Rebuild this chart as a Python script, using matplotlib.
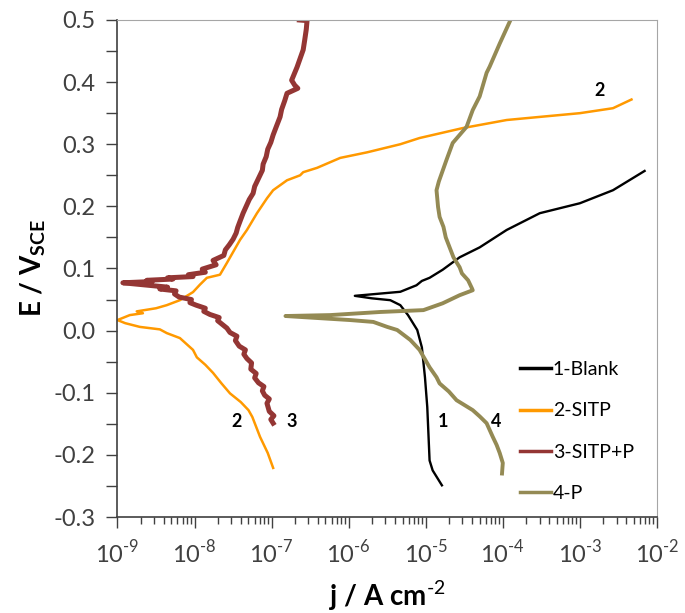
import matplotlib
matplotlib.use("Agg")
import matplotlib.pyplot as plt
import numpy as np
from matplotlib.ticker import LogLocator, MultipleLocator, NullFormatter, FuncFormatter

plt.rcParams["font.family"] = ["Lato", "DejaVu Sans"]
plt.rcParams["mathtext.fontset"] = "custom"
plt.rcParams["mathtext.rm"] = "Lato"
plt.rcParams["mathtext.bf"] = "Lato:bold"

# log10(j / A cm-2) and E / V_SCE
blank_logj = [-4.79, -4.91, -4.95, -4.98, -5.01, -5.05, -5.11, -5.23, -5.33, -5.46, -5.70,
              -5.92, -5.33, -5.12, -5.05, -4.95, -4.78, -4.56, -4.30, -3.95, -3.52, -3.00, -2.57, -2.16]
blank_E = [-0.249, -0.225, -0.209, -0.123, -0.075, -0.027, 0.001, 0.025, 0.041, 0.049, 0.052,
           0.056, 0.0625, 0.073, 0.080, 0.085, 0.098, 0.118, 0.134, 0.162, 0.189, 0.205, 0.226, 0.257]

sitp_logj = [-6.98, -7.05, -7.15, -7.25, -7.30, -7.40, -7.54, -7.65, -7.76, -7.86, -7.97, -8.02,
             -8.19, -8.36, -8.45, -8.71, -8.90, -9.00, -8.84, -8.67, -8.75, -8.50, -8.36, -8.19,
             -8.02, -7.93, -7.84, -7.67, -7.58, -7.41, -7.32, -7.19, -7.06, -6.98, -6.80, -6.63,
             -6.59, -6.41, -6.11, -5.76, -5.33, -5.08, -4.52, -4.30, -3.95, -3.52, -3.00, -2.57, -2.33]
sitp_E = [-0.221, -0.197, -0.171, -0.139, -0.128, -0.115, -0.101, -0.085, -0.068, -0.055, -0.043,
          -0.031, -0.012, -0.004, 0.002, 0.006, 0.012, 0.017, 0.025, 0.028, 0.031, 0.036, 0.041,
          0.049, 0.062, 0.074, 0.085, 0.090, 0.109, 0.146, 0.162, 0.189, 0.213, 0.226, 0.242,
          0.250, 0.255, 0.262, 0.278, 0.287, 0.300, 0.310, 0.326, 0.331, 0.339, 0.344, 0.350,
          0.358, 0.372]

sitpp_logj = [-6.98, -7.01, -6.97, -7.03, -7.06, -7.03, -7.09, -7.12, -7.10, -7.17, -7.22, -7.20,
              -7.27, -7.26, -7.32, -7.36, -7.34, -7.42, -7.47, -7.45, -7.54, -7.58, -7.64, -7.70,
              -7.68, -7.80, -7.88, -7.86, -7.98, -8.06, -8.04, -8.20, -8.26, -8.24, -8.45, -8.35,
              -8.93, -8.55, -8.62, -8.28, -8.35, -8.02, -8.08, -7.86, -7.90, -7.72, -7.76, -7.62,
              -7.60, -7.55, -7.50, -7.46, -7.44, -7.41, -7.37, -7.33, -7.29, -7.24, -7.22, -7.17,
              -7.12, -7.11, -7.07, -7.05, -7.01, -6.98, -6.94, -6.89, -6.87, -6.83, -6.80, -6.66,
              -6.70, -6.74, -6.70, -6.67, -6.63, -6.59, -6.57, -6.55, -6.54, -6.64]
sitpp_E = [-0.149, -0.143, -0.137, -0.130, -0.117, -0.110, -0.104, -0.097, -0.090, -0.084, -0.076,
           -0.069, -0.062, -0.052, -0.045, -0.038, -0.031, -0.025, -0.016, -0.009, -0.003, 0.004,
           0.010, 0.016, 0.021, 0.026, 0.031, 0.036, 0.041, 0.045, 0.050, 0.054, 0.059, 0.064,
           0.067, 0.070, 0.077, 0.079, 0.081, 0.083, 0.085, 0.087, 0.090, 0.094, 0.099, 0.106,
           0.113, 0.121, 0.130, 0.138, 0.147, 0.157, 0.166, 0.176, 0.189, 0.200, 0.211, 0.221,
           0.232, 0.245, 0.258, 0.268, 0.280, 0.292, 0.303, 0.315, 0.328, 0.344, 0.356, 0.370,
           0.382, 0.390, 0.395, 0.403, 0.415, 0.424, 0.438, 0.452, 0.468, 0.485, 0.499, 0.500]

p_logj = [-4.01, -4.00, -4.04, -4.08, -4.13, -4.21, -4.30, -4.39, -4.60, -4.70, -4.82, -4.86,
          -4.95, -5.08, -5.20, -5.37, -5.50, -5.68, -5.98, -6.82, -6.24, -5.59, -5.03, -4.78,
          -4.56, -4.39, -4.40, -4.45, -4.53, -4.56, -4.64, -4.69, -4.74, -4.77, -4.82, -4.84,
          -4.86, -4.83, -4.79, -4.73, -4.65, -4.47, -4.39, -4.30, -4.21, -4.17, -4.04, -3.90]
p_E = [-0.230, -0.213, -0.197, -0.184, -0.171, -0.149, -0.138, -0.128, -0.112, -0.098, -0.085,
       -0.075, -0.059, -0.031, -0.015, 0.001, 0.006, 0.014, 0.017, 0.0235, 0.025, 0.030, 0.033,
       0.044, 0.057, 0.065, 0.068, 0.081, 0.092, 0.102, 0.118, 0.134, 0.150, 0.167, 0.183,
       0.199, 0.226, 0.240, 0.254, 0.275, 0.302, 0.328, 0.355, 0.377, 0.415, 0.425, 0.462, 0.500]

series_names = ["1-Blank", "2-SITP", "3-SITP+P", "4-P"]
series_colors = ["#000000", "#FF9900", "#943634", "#948A54"]

# curve number labels: (text, log10 j, E)
curve_tags = [("2", -2.74, 0.387), ("1", -4.78, -0.147), ("4", -4.09, -0.147),
              ("2", -7.45, -0.147), ("3", -6.74, -0.147)]

fig = plt.figure(figsize=(6.85, 6.13), dpi=100)
ax = fig.add_axes([0.1715, 0.1566, 0.7875, 0.8108])

curves = [(blank_logj, blank_E, 1.7), (sitp_logj, sitp_E, 1.8),
          (sitpp_logj, sitpp_E, 3.6), (p_logj, p_E, 2.8)]
for (lj, e, lw), name, col in zip(curves, series_names, series_colors):
    ax.plot(10 ** np.array(lj), e, color=col, lw=lw, label=name)

for txt, lj, e in curve_tags:
    ax.text(10 ** lj, e, txt, fontsize=13, fontweight="bold", ha="center", va="center")

ax.set_xscale("log")
ax.set_xlim(1e-9, 1e-2)
ax.set_ylim(-0.3, 0.5)
ax.xaxis.set_major_locator(LogLocator(base=10, numticks=20))
ax.xaxis.set_minor_locator(LogLocator(base=10, subs=np.arange(2, 10), numticks=20))
ax.xaxis.set_minor_formatter(NullFormatter())
ax.xaxis.set_major_formatter(FuncFormatter(
    lambda v, p: r"$10^{\text{%d}}$" % int(round(np.log10(v)))))
ax.yaxis.set_major_locator(MultipleLocator(0.1))
ax.yaxis.set_minor_locator(MultipleLocator(0.05))
ax.yaxis.set_major_formatter(FuncFormatter(lambda v, p: f"{v:.1f}".replace("\u2212", "-")))

ax.tick_params(which="both", direction="out", color="#404040", labelcolor="#404040",
               labelsize=17, width=1)
ax.tick_params(axis="y", which="both", length=8, pad=8)
ax.tick_params(axis="x", which="major", length=8, pad=8)
ax.tick_params(axis="x", which="minor", length=5)

for side in ["top", "right"]:
    ax.spines[side].set_color("#A6A6A6")
for side in ["left", "bottom"]:
    ax.spines[side].set_color("#404040")
    ax.spines[side].set_linewidth(1.2)

ax.set_xlabel(r"j / A cm$^{\mathbf{\text{-2}}}$", fontsize=20, fontweight="bold", labelpad=8)
ax.set_ylabel(r"E / V$_{\mathbf{SCE}}$", fontsize=20, fontweight="bold", labelpad=4)

leg = ax.legend(loc="lower right", bbox_to_anchor=(0.99, -0.005), frameon=False, fontsize=14,
                handlelength=1.6, handletextpad=0.1, labelspacing=1.25)
for h in leg.legend_handles:
    h.set_linewidth(2.5)

fig.savefig("out.png", dpi=100)
